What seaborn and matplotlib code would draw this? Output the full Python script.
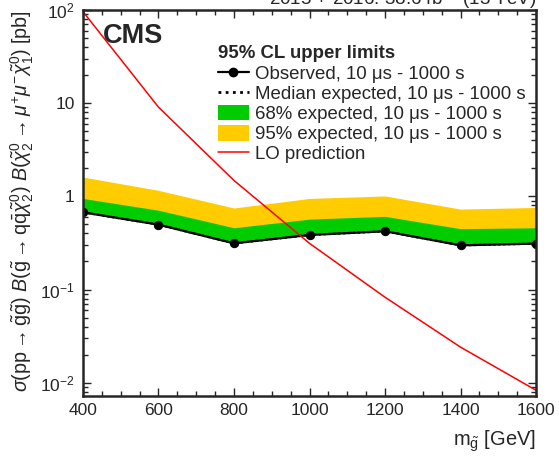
import matplotlib
matplotlib.use("Agg")
import matplotlib.pyplot as plt
import pandas as pd
import seaborn as sns
from matplotlib.lines import Line2D
from matplotlib.patches import Patch
from matplotlib.ticker import MultipleLocator, FixedLocator, FixedFormatter, LogLocator, NullFormatter

# Data
mass = [400, 600, 800, 1000, 1200, 1400, 1600]
observed = [0.674, 0.497, 0.313, 0.385, 0.422, 0.298, 0.311]
median_exp = [0.674, 0.497, 0.313, 0.385, 0.422, 0.298, 0.311]
exp68_up = [0.95, 0.71, 0.46, 0.57, 0.61, 0.45, 0.46]
exp95_up = [1.61, 1.16, 0.75, 0.95, 1.01, 0.73, 0.76]
lo_xsec = [96.0, 9.06, 1.48, 0.313, 0.0827, 0.0241, 0.0083]

y_ticks = [1e-2, 1e-1, 1, 10, 100]
y_tick_labels = [r"$10^{-2}$", r"$10^{-1}$", "1", "10", r"$10^{2}$"]

df = pd.DataFrame({"mass": mass, "observed": observed, "median": median_exp,
                   "up68": exp68_up, "up95": exp95_up, "lo": lo_xsec})

sns.set_style("ticks")
plt.rcParams["font.family"] = ["Liberation Sans", "DejaVu Sans"]
plt.rcParams["mathtext.fontset"] = "custom"
plt.rcParams["mathtext.rm"] = "Liberation Sans"
plt.rcParams["mathtext.it"] = "Liberation Sans:italic"
plt.rcParams["mathtext.bf"] = "Liberation Sans:bold"

green = "#00CC00"
yellow = "#FFCC00"

fig = plt.figure(figsize=(5.59, 4.57), dpi=100)
ax = fig.add_axes([83 / 559, 1 - 396 / 457, 453 / 559, 386 / 457])

# Bands
ax.fill_between(df["mass"], df["median"], df["up95"], color=yellow, lw=0)
ax.fill_between(df["mass"], df["median"], df["up68"], color=green, lw=0)

# Observed and expected
sns.lineplot(data=df, x="mass", y="observed", color="black", lw=1.6,
             marker="o", markersize=6, markeredgecolor="black", ax=ax)
sns.lineplot(data=df, x="mass", y="median", color="black", lw=1.6,
             linestyle=(0, (1, 1.2)), ax=ax)

# LO prediction
sns.lineplot(data=df, x="mass", y="lo", color="red", lw=1.1, ax=ax)

ax.set_yscale("log")
ax.set_xlim(400, 1600)
ax.set_ylim(0.0072, 100)

ax.xaxis.set_major_locator(MultipleLocator(200))
ax.xaxis.set_minor_locator(MultipleLocator(50))
ax.yaxis.set_major_locator(FixedLocator(y_ticks))
ax.yaxis.set_major_formatter(FixedFormatter(y_tick_labels))
ax.yaxis.set_minor_locator(LogLocator(base=10, subs=range(2, 10)))
ax.yaxis.set_minor_formatter(NullFormatter())

ax.tick_params(which="both", direction="in", top=True, right=True, labelsize=12.5, width=1.0)
ax.tick_params(which="major", length=6)
ax.tick_params(which="minor", length=3.5)
ax.tick_params(axis="x", pad=5)
ax.tick_params(axis="y", pad=6)
for sp in ax.spines.values():
    sp.set_linewidth(1.8)

ax.set_xlabel(r"m$_{\tilde{\mathrm{g}}}$ [GeV]", fontsize=14.5, loc="right")
ax.xaxis.set_label_coords(1.0, -0.118)
ax.xaxis.label.set_va("center")

ax.set_ylabel(r"$\sigma(\mathrm{pp} \rightarrow \tilde{\mathrm{g}}\tilde{\mathrm{g}})\ \mathit{B}(\tilde{\mathrm{g}} \rightarrow \mathrm{q}\bar{\mathrm{q}}\tilde{\chi}^{0}_{2})\ \mathit{B}(\tilde{\chi}^{0}_{2} \rightarrow \mu^{+}\mu^{-}\tilde{\chi}^{0}_{1})$ [pb]",
              fontsize=14.2, loc="top")
ax.yaxis.set_label_coords(-0.135, 1.0)
ax.yaxis.label.set_va("center")

ax.text(0.044, 0.933, "CMS", transform=ax.transAxes, fontsize=19.5,
        fontweight="bold", va="center", ha="left")
fig.text(536 / 559, 1 - 5 / 457, r"2015 + 2016: 38.6 fb$^{-1}$ (13 TeV)",
         fontsize=13.5, ha="right", va="baseline")

handles = [
    Line2D([], [], color="black", lw=1.6, marker="o", markersize=6),
    Line2D([], [], color="black", lw=2, linestyle=(0, (1, 1.6))),
    Patch(facecolor=green, edgecolor="none"),
    Patch(facecolor=yellow, edgecolor="none"),
    Line2D([], [], color="red", lw=1.1),
]
labels = [
    "Observed, 10 \u03bcs - 1000 s",
    "Median expected, 10 \u03bcs - 1000 s",
    "68% expected, 10 \u03bcs - 1000 s",
    "95% expected, 10 \u03bcs - 1000 s",
    "LO prediction",
]
leg = ax.legend(handles, labels, loc="upper left", bbox_to_anchor=(0.298, 0.91),
                frameon=False, fontsize=13.4, borderpad=0, borderaxespad=0,
                handlelength=1.65, handleheight=0.9, handletextpad=0.35,
                labelspacing=0.11, title="95% CL upper limits",
                title_fontproperties={"weight": "bold", "size": 13.4},
                alignment="left")
leg._legend_box.sep = 2

fig.savefig("out.png", dpi=100)
